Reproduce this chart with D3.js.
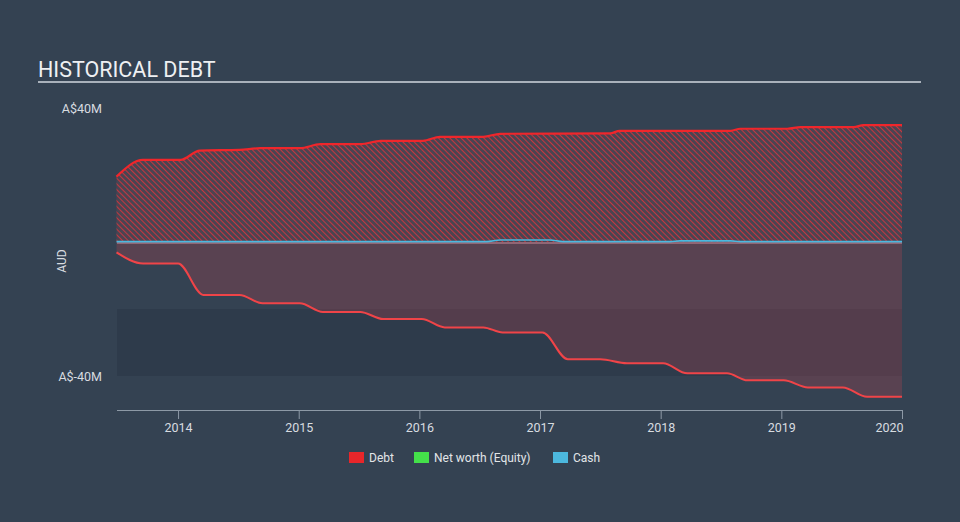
<!DOCTYPE html>
<html><head><meta charset="utf-8">
<script src="https://cdn.jsdelivr.net/npm/d3@7"></script>
<style>
html,body{margin:0;padding:0;background:#344252;}
svg{display:block;font-family:Roboto,"Open Sans",sans-serif;}
</style></head>
<body>
<svg id="chart" width="960" height="522"></svg>
<script>
// Data (decimal years, A$ millions)
const debtYears = [2013.49,2013.71,2014.02,2014.18,2014.51,2014.68,2015.01,2015.18,2015.51,2015.68,2016.03,2016.17,2016.53,2016.67,2017.58,2017.66,2018.58,2018.66,2019.05,2019.16,2019.60,2019.68,2020.0];
const debtValues = [19.5,24.5,24.5,27.3,27.5,28.0,28.0,29.2,29.2,30.2,30.2,31.4,31.4,32.3,32.4,33.2,33.2,33.8,33.8,34.3,34.3,34.9,34.9];
const equityYears = [2013.49,2013.71,2014.0,2014.21,2014.51,2014.70,2015.01,2015.20,2015.51,2015.70,2016.02,2016.21,2016.53,2016.69,2017.02,2017.23,2017.50,2017.72,2018.02,2018.22,2018.55,2018.72,2019.02,2019.22,2019.51,2019.71,2020.0];
const equityValues = [-3.1,-6.4,-6.4,-15.8,-15.8,-18.3,-18.3,-20.9,-20.9,-23.0,-23.0,-25.5,-25.5,-27.0,-27.0,-35.0,-35.0,-36.2,-36.2,-39.2,-39.2,-41.3,-41.3,-43.4,-43.4,-46.2,-46.2];
const cashYears = [2013.49,2016.56,2016.67,2017.08,2017.19,2018.08,2018.16,2018.58,2018.66,2020.0];
const cashValues = [0.1,0.1,0.6,0.6,0.1,0.1,0.35,0.35,0.1,0.1];
const xTicks = [2014,2015,2016,2017,2018,2019,2020];
const yTicks = [40,-40];
const legendItems = ["Debt","Net worth (Equity)","Cash"];
const legendColors = ["#e8262a","#44e04a","#4cb8de"];

(function(){
const svg = d3.select("#chart");
const pL = 117, pR = 902, pT = 108, pB = 376;
const x = d3.scaleLinear().domain([2013.494, 2020.0]).range([pL, pR]);
const y = d3.scaleLinear().domain([-40, 40]).range([pB, pT]);

const zip = (xs, vs) => xs.map((t, i) => ({t, v: vs[i]}));
const debt = zip(debtYears, debtValues);
const equity = zip(equityYears, equityValues);
const cash = zip(cashYears, cashValues);

const defs = svg.append("defs");
const pat = defs.append("pattern").attr("id","hatch").attr("patternUnits","userSpaceOnUse")
  .attr("width",4).attr("height",4).attr("patternTransform","rotate(-45)");
pat.append("rect").attr("width",4).attr("height",4).attr("fill","#4a4452");
pat.append("line").attr("x1",0).attr("y1",0).attr("x2",0).attr("y2",4)
  .attr("stroke","#c8363e").attr("stroke-width",2);

svg.append("text").attr("x",38).attr("y",77).attr("fill","#eef0f2")
  .attr("font-size",21.5).text("HISTORICAL DEBT");
svg.append("line").attr("x1",38).attr("x2",921).attr("y1",82).attr("y2",82)
  .attr("stroke","#a9b1bb").attr("stroke-width",2);

svg.append("rect").attr("x",pL).attr("width",pR-pL)
  .attr("y",y(-20)).attr("height",y(-40)-y(-20)).attr("fill","#2e3b4b");

const curve = d3.curveMonotoneX;

svg.append("path").datum(equity)
  .attr("d", d3.area().curve(curve).x(d=>x(d.t)).y0(y(0)).y1(d=>y(d.v)))
  .attr("fill","rgba(240,70,80,0.2)");

svg.append("path").datum(debt)
  .attr("d", d3.area().curve(curve).x(d=>x(d.t)).y0(y(0)).y1(d=>y(d.v)))
  .attr("fill","url(#hatch)");

svg.append("path").datum(debt)
  .attr("d", d3.line().curve(curve).x(d=>x(d.t)).y(d=>y(d.v)))
  .attr("fill","none").attr("stroke","#f0262b").attr("stroke-width",2.2);
svg.append("path").datum(equity)
  .attr("d", d3.line().curve(curve).x(d=>x(d.t)).y(d=>y(d.v)))
  .attr("fill","none").attr("stroke","#f04448").attr("stroke-width",2);
svg.append("line").attr("x1",pL).attr("x2",pR).attr("y1",y(0)+1).attr("y2",y(0)+1)
  .attr("stroke","#c98a9a").attr("stroke-width",1);
svg.append("path").datum(cash)
  .attr("d", d3.line().curve(curve).x(d=>x(d.t)).y(d=>y(d.v)))
  .attr("fill","none").attr("stroke","#4cb8de").attr("stroke-width",1.6);

const xAxis = d3.axisBottom(x).tickValues(xTicks).tickFormat(d3.format("d")).tickSize(9).tickPadding(4);
const gx = svg.append("g").attr("transform","translate(0,410)").call(xAxis);
gx.select(".domain").attr("stroke","#8d99a6").attr("d",`M${pL},0.5H${pR}`);
gx.selectAll(".tick line").attr("stroke","#8d99a6");
gx.selectAll(".tick text").attr("fill","#d8dce0").attr("font-size",12.5).attr("font-family","Roboto,sans-serif");
gx.selectAll(".tick").filter(d=>d===2020).select("text").attr("text-anchor","end").attr("x",1);

svg.selectAll("text.ylab").data(yTicks).enter().append("text").attr("class","ylab")
  .attr("x",102).attr("y",d=>y(d)+4.5).attr("text-anchor","end")
  .attr("fill","#d8dce0").attr("font-size",12.5).text(d=>`A$${d}M`);
svg.append("text").attr("transform","translate(66,261) rotate(-90)").attr("text-anchor","middle")
  .attr("fill","#d8dce0").attr("font-size",12).text("AUD");

const lx = [349,414,553];
const lg = svg.append("g");
legendItems.forEach((name,i)=>{
  lg.append("rect").attr("x",lx[i]).attr("y",452).attr("width",15).attr("height",11).attr("fill",legendColors[i]);
  lg.append("text").attr("x",lx[i]+20).attr("y",462).attr("fill","#e2e5e8").attr("font-size",12).text(name);
});
})();
</script>
</body></html>
